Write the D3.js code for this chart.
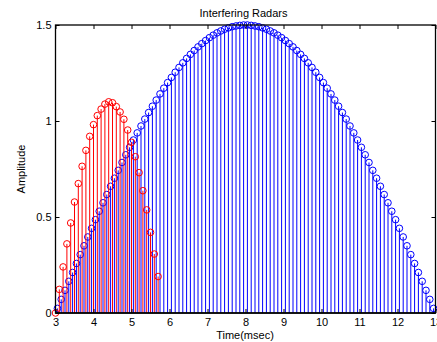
<!DOCTYPE html>
<html>
<head>
<meta charset="utf-8">
<script src="https://cdn.jsdelivr.net/npm/d3@7"></script>
<style>
  body { margin: 0; background: #fff; }
  svg { display: block; }
  text { font-family: "Liberation Sans", Arial, sans-serif; }
</style>
</head>
<body>
<svg id="chart" width="437" height="342"></svg>
<script>
// x tick labels and y tick labels
let xTicks = [3, 4, 5, 6, 7, 8, 9, 10, 11, 12, 13];
let yTicks = [0, 0.5, 1, 1.5];

// red pulse: sampled every 0.1 msec starting at 3
let redStart = 3, redStep = 0.1;
let redValues = [0, 0.123, 0.24, 0.36, 0.469, 0.578, 0.674, 0.764, 0.847, 0.92,
  0.981, 1.028, 1.062, 1.088, 1.1, 1.095, 1.075, 1.047, 1.009, 0.953,
  0.889, 0.814, 0.731, 0.637, 0.537, 0.42, 0.307, 0.19];

// blue pulse: sampled every 0.1 msec starting at 3.05
let blueStart = 3.05, blueStep = 0.1;
let blueValues = [0.024, 0.071, 0.118, 0.165, 0.211, 0.258, 0.304, 0.350, 0.396, 0.441,
  0.486, 0.530, 0.574, 0.617, 0.660, 0.702, 0.743, 0.784, 0.824, 0.863,
  0.901, 0.938, 0.974, 1.010, 1.044, 1.077, 1.109, 1.141, 1.171, 1.200,
  1.227, 1.254, 1.279, 1.303, 1.326, 1.347, 1.367, 1.386, 1.403, 1.419,
  1.434, 1.447, 1.459, 1.469, 1.478, 1.485, 1.491, 1.495, 1.498, 1.500,
  1.500, 1.498, 1.495, 1.491, 1.485, 1.478, 1.469, 1.459, 1.447, 1.434,
  1.419, 1.403, 1.386, 1.367, 1.347, 1.326, 1.303, 1.279, 1.254, 1.227,
  1.200, 1.171, 1.141, 1.109, 1.077, 1.044, 1.010, 0.974, 0.938, 0.901,
  0.863, 0.824, 0.784, 0.743, 0.702, 0.660, 0.617, 0.574, 0.530, 0.486,
  0.441, 0.396, 0.350, 0.304, 0.258, 0.211, 0.165, 0.118, 0.071, 0.024];

let svg = d3.select("#chart");
let mLeft = 55.5, mRight = 435.5, mTop = 25, mBottom = 313;

let x = d3.scaleLinear().domain([3, 13]).range([mLeft, mRight]);
let y = d3.scaleLinear().domain([0, 1.5]).range([mBottom, mTop]);

// Draw stems for one series
function drawStems(values, start, step, color) {
  let pts = values.map(function(v, i) { return { t: start + i * step, v: v }; });
  let g = svg.append("g");
  g.selectAll("line")
    .data(pts)
    .enter().append("line")
    .attr("x1", function(d) { return x(d.t); })
    .attr("x2", function(d) { return x(d.t); })
    .attr("y1", y(0))
    .attr("y2", function(d) { return y(d.v); })
    .attr("stroke", color)
    .attr("stroke-width", 1);
  g.selectAll("circle")
    .data(pts)
    .enter().append("circle")
    .attr("cx", function(d) { return x(d.t); })
    .attr("cy", function(d) { return y(d.v); })
    .attr("r", 3.3)
    .attr("fill", "none")
    .attr("stroke", color)
    .attr("stroke-width", 1);
}

drawStems(blueValues, blueStart, blueStep, "#0000ff");
drawStems(redValues, redStart, redStep, "#ff0000");

// baseline
svg.append("line")
  .attr("x1", mLeft).attr("x2", mRight)
  .attr("y1", y(0)).attr("y2", y(0))
  .attr("stroke", "#000").attr("stroke-width", 1.5);

// axes box
svg.append("rect")
  .attr("x", mLeft).attr("y", mTop)
  .attr("width", mRight - mLeft).attr("height", mBottom - mTop)
  .attr("fill", "none").attr("stroke", "#000").attr("stroke-width", 1.3);

let tickLen = 4;

let xAxis = svg.append("g")
  .attr("transform", "translate(0," + mBottom + ")")
  .call(d3.axisBottom(x).tickValues(xTicks).tickFormat(d3.format("d"))
    .tickSize(-tickLen).tickPadding(5));
let xTop = svg.append("g")
  .attr("transform", "translate(0," + mTop + ")")
  .call(d3.axisTop(x).tickValues(xTicks).tickFormat("").tickSize(-tickLen));
let yAxis = svg.append("g")
  .attr("transform", "translate(" + mLeft + ",0)")
  .call(d3.axisLeft(y).tickValues(yTicks).tickFormat(d3.format("~g"))
    .tickSize(-tickLen).tickPadding(4));
let yRight = svg.append("g")
  .attr("transform", "translate(" + mRight + ",0)")
  .call(d3.axisRight(y).tickValues(yTicks).tickFormat("").tickSize(-tickLen));

[xAxis, xTop, yAxis, yRight].forEach(function(a) {
  a.select(".domain").remove();
  a.selectAll("text").attr("font-size", 11).attr("fill", "#000")
    .attr("font-family", "Liberation Sans, Arial, sans-serif");
  a.selectAll(".tick line").attr("stroke", "#000");
});

// title and labels
svg.append("text")
  .attr("x", 243.5).attr("y", 17)
  .attr("text-anchor", "middle").attr("font-size", 11)
  .text("Interfering Radars");

svg.append("text")
  .attr("x", 245).attr("y", 339)
  .attr("text-anchor", "middle").attr("font-size", 11)
  .text("Time(msec)");

svg.append("text")
  .attr("transform", "translate(25," + (mTop + mBottom) / 2 + ") rotate(-90)")
  .attr("text-anchor", "middle").attr("font-size", 11)
  .text("Amplitude");
</script>
</body>
</html>
